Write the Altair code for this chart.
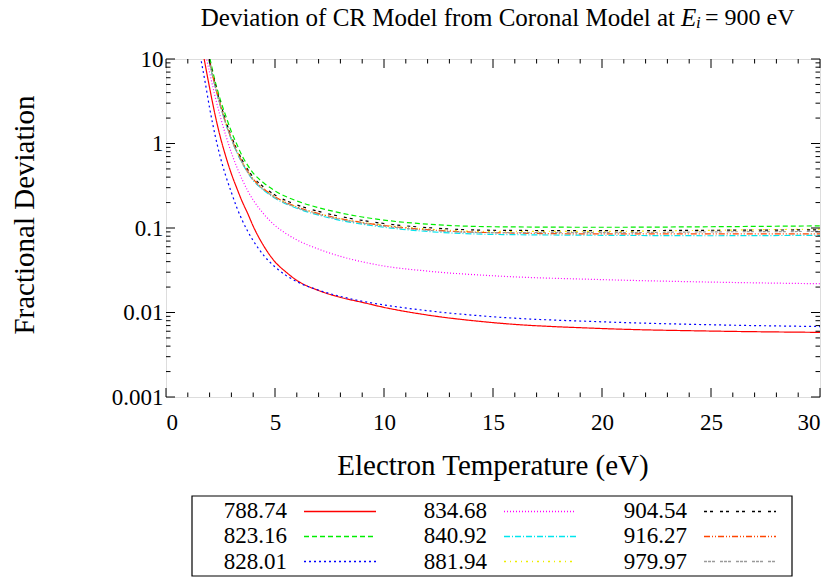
import altair as alt
import pandas as pd

# ---------------- data ----------------
labels = ["788.74", "823.16", "828.01", "834.68", "840.92", "881.94", "904.54", "916.27", "979.97"]
colors = ["#ff0000", "#00ee00", "#0000ff", "#ff00ff", "#00e5ee", "#eeee00", "#000000", "#ff4500", "#9a9a9a"]
dashes = [[1, 0], [5, 3], [2, 3], [1, 2], [6, 2, 1, 2], [2, 4, 1, 4], [3, 3, 3, 7], [6, 2, 1, 2, 1, 2], [3, 1, 3, 1, 3, 5]]

T_red = [1.65, 1.75, 2.0, 2.25, 2.5, 2.75, 3.0, 3.25, 3.5, 3.75, 4.0, 4.5, 5.0, 5.5, 6.0, 7, 8, 9, 10, 12, 15, 20, 25, 30]
v_red = [13.8, 10, 4.57, 2.19, 1.17, 0.692, 0.437, 0.295, 0.204, 0.148, 0.105, 0.0603, 0.0398, 0.0302, 0.024,
         0.0182, 0.0151, 0.0132, 0.0115, 0.00933, 0.00759, 0.00646, 0.00603, 0.00582]

T_blue = [1.5, 1.6, 1.8, 2.0, 2.25, 2.5, 2.75, 3.0, 3.25, 3.5, 3.75, 4.0, 4.5, 5.0, 5.5, 6.0, 7, 8, 9, 10, 12, 15, 20, 25, 30]
v_blue = [14.1, 10, 5.25, 2.63, 1.26, 0.676, 0.407, 0.263, 0.174, 0.123, 0.0912, 0.0708, 0.0468, 0.0347, 0.0275,
          0.0232, 0.0184, 0.0155, 0.0136, 0.0123, 0.0105, 0.0089, 0.00776, 0.00716, 0.00682]

T_mag = [1.75, 1.86, 2.0, 2.25, 2.5, 2.75, 3.0, 3.25, 3.5, 3.75, 4.0, 4.5, 5.0, 5.5, 6.0, 7, 8, 9, 10, 12, 15, 20, 25, 30]
v_mag = [13.5, 10, 6.92, 3.63, 2.04, 1.23, 0.776, 0.525, 0.372, 0.275, 0.214, 0.145, 0.107, 0.0861, 0.0724,
         0.0562, 0.0462, 0.0398, 0.0355, 0.0309, 0.0272, 0.0245, 0.0229, 0.0219]

T_cl = [1.85, 1.96, 2.25, 2.5, 2.75, 3.0, 3.25, 3.5, 3.75, 4.0, 4.5, 5, 6, 7, 8, 9, 10, 12, 15, 20, 25, 30]
v_green = [15.5, 11.7, 5.5, 3.24, 2.09, 1.38, 0.977, 0.708, 0.55, 0.447, 0.339, 0.275, 0.209, 0.174, 0.151,
           0.135, 0.124, 0.111, 0.1035, 0.102, 0.1035, 0.106]
v_cyan = [12.8, 9.7, 4.75, 2.73, 1.69, 1.11, 0.785, 0.583, 0.452, 0.366, 0.277, 0.225, 0.171, 0.142, 0.123,
          0.111, 0.102, 0.091, 0.084, 0.082, 0.081, 0.082]
v_yellow = [13.2, 10, 4.9, 2.82, 1.74, 1.15, 0.813, 0.603, 0.468, 0.38, 0.288, 0.234, 0.178, 0.148, 0.129,
            0.117, 0.108, 0.097, 0.091, 0.091, 0.094, 0.097]
v_black = [13.8, 10.5, 5.15, 2.96, 1.83, 1.21, 0.854, 0.633, 0.492, 0.4, 0.303, 0.246, 0.188, 0.157, 0.137,
           0.123, 0.113, 0.101, 0.094, 0.093, 0.094, 0.095]
v_orange = [13.2, 10, 4.9, 2.82, 1.74, 1.15, 0.813, 0.603, 0.468, 0.38, 0.288, 0.234, 0.178, 0.148, 0.129,
            0.116, 0.107, 0.0955, 0.0881, 0.0851, 0.0851, 0.0851]
v_gray = [12.9, 9.8, 4.78, 2.75, 1.7, 1.12, 0.79, 0.587, 0.456, 0.37, 0.281, 0.228, 0.174, 0.145, 0.126,
          0.114, 0.105, 0.094, 0.088, 0.088, 0.09, 0.091]

x_ticks = list(range(0, 31))
x_labels = [0, 5, 10, 15, 20, 25, 30]
y_decades = [0.001, 0.01, 0.1, 1, 10]

series = [
    ("788.74", T_red, v_red), ("823.16", T_cl, v_green), ("828.01", T_blue, v_blue),
    ("834.68", T_mag, v_mag), ("840.92", T_cl, v_cyan), ("881.94", T_cl, v_yellow),
    ("904.54", T_cl, v_black), ("916.27", T_cl, v_orange), ("979.97", T_cl, v_gray),
]
rows = []
for name, ts, vs in series:
    for t, v in zip(ts, vs):
        rows.append({"series": name, "T": t, "v": v})
df = pd.DataFrame(rows)

# ---------------- layout ----------------
W, H = 654, 338
FONT = "Liberation Serif, Times New Roman, serif"
FS_TICK = 23
FS_AX = 29
FS_TITLE = 25
FS_LEG = 23

xscale = alt.Scale(domain=[0, 30], nice=False, zero=False)
yscale = alt.Scale(type="log", domain=[0.001, 10], nice=False)

lines = alt.Chart(df).mark_line(clip=True, strokeWidth=1.2, interpolate="monotone").encode(
    x=alt.X("T:Q", scale=xscale, axis=alt.Axis(
        values=x_labels, ticks=False, domain=False, grid=False,
        labelFont=FONT, labelFontSize=FS_TICK, labelColor="black", labelPadding=14, title=None)),
    y=alt.Y("v:Q", scale=yscale, axis=alt.Axis(
        values=y_decades, format="~g", ticks=False, domain=False, grid=False,
        labelFont=FONT, labelFontSize=FS_TICK, labelColor="black", labelPadding=3, title=None)),
    color=alt.Color("series:N", scale=alt.Scale(domain=labels, range=colors), legend=None),
    strokeDash=alt.StrokeDash("series:N", scale=alt.Scale(domain=labels, range=dashes), legend=None),
    order=alt.Order("T:Q"),
)

xt = pd.DataFrame({"T": x_ticks})
xt_major = xt[xt["T"].isin(x_labels)]
xt_minor = xt[~xt["T"].isin(x_labels)]
yvals = []
for d in y_decades[:-1]:
    for k in range(1, 10):
        yvals.append(k * d)
yvals.append(10)
yt = pd.DataFrame({"v": yvals})
yt_major = yt[yt["v"].isin(y_decades)]
yt_minor = yt[~yt["v"].isin(y_decades)]

tick_layers = []
for data, L in [(xt_major, 9), (xt_minor, 4.5)]:
    tick_layers.append(alt.Chart(data).mark_rule(color="black", strokeWidth=1).encode(
        x="T:Q", y=alt.value(H), y2=alt.value(H - L)))
    tick_layers.append(alt.Chart(data).mark_rule(color="black", strokeWidth=1).encode(
        x="T:Q", y=alt.value(0), y2=alt.value(L)))
for data, L in [(yt_major, 9), (yt_minor, 4.5)]:
    tick_layers.append(alt.Chart(data).mark_rule(color="black", strokeWidth=1).encode(
        y="v:Q", x=alt.value(0), x2=alt.value(L)))
    tick_layers.append(alt.Chart(data).mark_rule(color="black", strokeWidth=1).encode(
        y="v:Q", x=alt.value(W), x2=alt.value(W - L)))

dummy = pd.DataFrame({"a": [0]})
title_y = -41
text_layers = [
    alt.Chart(dummy).mark_text(text="Deviation of CR Model from Coronal Model at", font=FONT, fontSize=FS_TITLE,
                               align="right", baseline="middle", color="black").encode(
        x=alt.value(509), y=alt.value(title_y)),
    alt.Chart(dummy).mark_text(text="E", font=FONT, fontSize=FS_TITLE, fontStyle="italic",
                               align="left", baseline="middle", color="black").encode(
        x=alt.value(515), y=alt.value(title_y)),
    alt.Chart(dummy).mark_text(text="i", font=FONT, fontSize=17, fontStyle="italic",
                               align="left", baseline="middle", color="black").encode(
        x=alt.value(530), y=alt.value(title_y + 5)),
    alt.Chart(dummy).mark_text(text="= 900 eV", font=FONT, fontSize=24,
                               align="left", baseline="middle", color="black").encode(
        x=alt.value(539), y=alt.value(title_y)),
    # axis titles
    alt.Chart(dummy).mark_text(text="Electron Temperature (eV)", font=FONT, fontSize=FS_AX,
                               align="center", baseline="middle", color="black").encode(
        x=alt.value(W / 2), y=alt.value(407)),
    alt.Chart(dummy).mark_text(text="Fractional Deviation", font=FONT, fontSize=FS_AX, angle=270,
                               align="center", baseline="middle", color="black").encode(
        x=alt.value(-141), y=alt.value(156)),
]

# legend box (pixel layout relative to plot area origin)
legend_layers = [
    alt.Chart(dummy).mark_rect(fill=None, stroke="black", strokeWidth=1.2).encode(
        x=alt.value(26), x2=alt.value(626), y=alt.value(437), y2=alt.value(517))
]
for i, name in enumerate(labels):
    col, row = i // 3, i % 3
    tx = 121 + 200 * col
    ty = 451.5 + 25.5 * row
    legend_layers.append(alt.Chart(dummy).mark_text(
        text=name, font=FONT, fontSize=FS_LEG, align="right", baseline="middle", color="black").encode(
        x=alt.value(tx), y=alt.value(ty)))
    legend_layers.append(alt.Chart(dummy).mark_rule(
        stroke=colors[i], color=colors[i], strokeDash=dashes[i], strokeWidth=1.3).encode(
        x=alt.value(tx + 17), x2=alt.value(tx + 89), y=alt.value(round(ty) + 0.5)))

chart = alt.layer(lines, *tick_layers, *text_layers, *legend_layers).properties(
    width=W, height=H,
    padding={"left": 166, "top": 59, "right": 14, "bottom": 180},
    autosize=alt.AutoSizeParams(type="none"),
).configure_view(stroke="black", strokeWidth=1.5).configure(background="white")

chart.save("out.html", embed_options={"renderer": "svg", "actions": False})
